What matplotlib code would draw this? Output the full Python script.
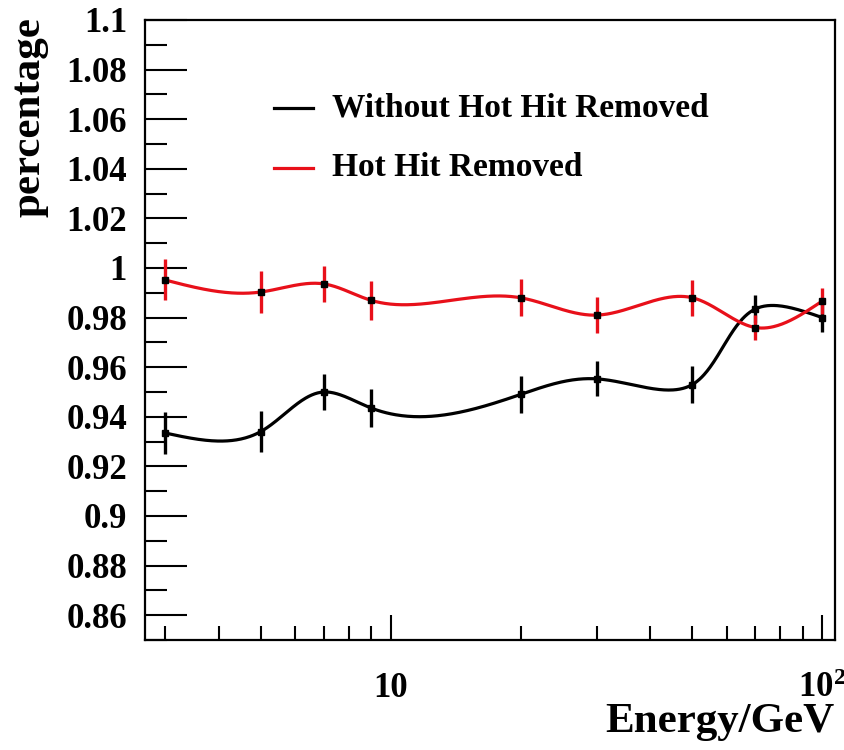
import numpy as np
import matplotlib
matplotlib.use("Agg")
import matplotlib.pyplot as plt
from matplotlib.ticker import FixedLocator, NullFormatter
from matplotlib.lines import Line2D

# ---- data ----
energy = [3, 5, 7, 9, 20, 30, 50, 70, 100]
without_removed = [0.9335, 0.934, 0.950, 0.9436, 0.949, 0.9553, 0.953, 0.9835, 0.980]
without_err = [0.0084, 0.0083, 0.0074, 0.0077, 0.0074, 0.0070, 0.0073, 0.0057, 0.0060]
hot_removed = [0.9952, 0.9903, 0.9936, 0.987, 0.988, 0.981, 0.988, 0.976, 0.9867]
hot_err = [0.0083, 0.0084, 0.0074, 0.0078, 0.0074, 0.0072, 0.0073, 0.0050, 0.0052]
ytick_vals = [0.86, 0.88, 0.90, 0.92, 0.94, 0.96, 0.98, 1.00, 1.02, 1.04, 1.06, 1.08, 1.10]
ytick_labels = ["0.86", "0.88", "0.9", "0.92", "0.94", "0.96", "0.98", "1", "1.02", "1.04", "1.06", "1.08", "1.1"]
xtick_vals = [10, 100]
xtick_labels = ["10", r"$\mathregular{10^{2}}$"]
series_labels = ["Without Hot Hit Removed", "Hot Hit Removed"]
x_label = "Energy/GeV"
y_label = "percentage"

XLIM = (2.7, 107)
YLIM = (0.85, 1.10)

plt.rcParams['font.family'] = ['Liberation Serif', 'DejaVu Serif']
plt.rcParams['font.weight'] = 'bold'
plt.rcParams['mathtext.fontset'] = 'custom'
plt.rcParams['mathtext.rm'] = 'Liberation Serif:bold'
plt.rcParams['mathtext.bf'] = 'Liberation Serif:bold'
plt.rcParams['mathtext.default'] = 'regular'

W, H = 845, 750
fig = plt.figure(figsize=(W / 100, H / 100), dpi=100)
ax = fig.add_axes([145 / W, 1 - 640 / H, (835 - 145) / W, (640 - 20) / H])
ax.set_xscale('log')
ax.set_xlim(*XLIM)
ax.set_ylim(*YLIM)


def natural_spline_1d(t, f, tt):
    n = len(t)
    h = np.diff(t)
    A = np.zeros((n, n))
    b = np.zeros(n)
    A[0, 0] = 1.0
    A[-1, -1] = 1.0
    for i in range(1, n - 1):
        A[i, i - 1] = h[i - 1]
        A[i, i] = 2 * (h[i - 1] + h[i])
        A[i, i + 1] = h[i]
        b[i] = 3 * ((f[i + 1] - f[i]) / h[i] - (f[i] - f[i - 1]) / h[i - 1])
    c = np.linalg.solve(A, b)
    out = np.empty_like(tt)
    for k, x in enumerate(tt):
        i = min(np.searchsorted(t, x, side='right') - 1, n - 2)
        i = max(i, 0)
        dx = x - t[i]
        bi = (f[i + 1] - f[i]) / h[i] - h[i] * (2 * c[i] + c[i + 1]) / 3
        di = (c[i + 1] - c[i]) / (3 * h[i])
        out[k] = f[i] + bi * dx + c[i] * dx ** 2 + di * dx ** 3
    return out


def smooth_curve(xs, ys, n=600):
    """Parametric natural cubic spline (chord-length) in normalized (log x, y) space."""
    lx0, lx1 = np.log10(XLIM[0]), np.log10(XLIM[1])
    u = (np.log10(np.asarray(xs, float)) - lx0) / (lx1 - lx0) * 690.0
    v = (np.asarray(ys, float) - YLIM[0]) / (YLIM[1] - YLIM[0]) * 620.0
    d = np.hypot(np.diff(u), np.diff(v))
    t = np.concatenate([[0], np.cumsum(d)])
    tt = np.linspace(0, t[-1], n)
    su = natural_spline_1d(t, u, tt)
    sv = natural_spline_1d(t, v, tt)
    xs_out = 10 ** (su / 690.0 * (lx1 - lx0) + lx0)
    ys_out = sv / 620.0 * (YLIM[1] - YLIM[0]) + YLIM[0]
    return xs_out, ys_out


RED = '#e8101a'
for yv, ye, col in [(without_removed, without_err, 'black'), (hot_removed, hot_err, RED)]:
    cx, cy = smooth_curve(energy, yv)
    ax.plot(cx, cy, color=col, lw=2.3, zorder=2)
    ax.errorbar(energy, yv, yerr=ye, fmt='none', ecolor=col, elinewidth=2.4, capsize=0, zorder=3)
    ax.plot(energy, yv, 's', color='black', ms=4, zorder=4)

# axes styling
for s in ax.spines.values():
    s.set_linewidth(1.6)
ax.yaxis.set_major_locator(FixedLocator(ytick_vals))
ax.set_yticklabels(ytick_labels)
ax.yaxis.set_minor_locator(FixedLocator([v + 0.01 for v in ytick_vals[:-1]] + [0.85]))
ax.xaxis.set_major_locator(FixedLocator(xtick_vals))
ax.set_xticklabels(xtick_labels)
ax.xaxis.set_minor_locator(FixedLocator([3, 4, 5, 6, 7, 8, 9, 20, 30, 40, 50, 60, 70, 80, 90]))
ax.xaxis.set_minor_formatter(NullFormatter())
ax.tick_params(axis='both', which='both', direction='in', top=False, right=False, width=1.5)
ax.tick_params(axis='y', which='major', length=30, pad=13, labelsize=25)
ax.tick_params(axis='y', which='minor', length=16)
ax.tick_params(axis='x', which='major', length=18, pad=23, labelsize=25)
ax.tick_params(axis='x', which='minor', length=10)

# legend (manual)
for (lab, col, yy) in [(series_labels[0], 'black', 108), (series_labels[1], RED, 168)]:
    fig.add_artist(Line2D([274 / W, 313 / W], [1 - yy / H, 1 - yy / H], color=col, lw=2.3))
    fig.text(332 / W, 1 - yy / H, lab, fontsize=24, fontweight='bold', ha='left', va='center')

fig.text(835 / W, 1 - 722 / H, x_label, fontsize=31, fontweight='bold', ha='right', va='center')
fig.text(30 / W, 1 - 117 / H, y_label, fontsize=31, fontweight='bold', rotation=90,
         ha='center', va='center')

fig.savefig('out.png', dpi=100)
